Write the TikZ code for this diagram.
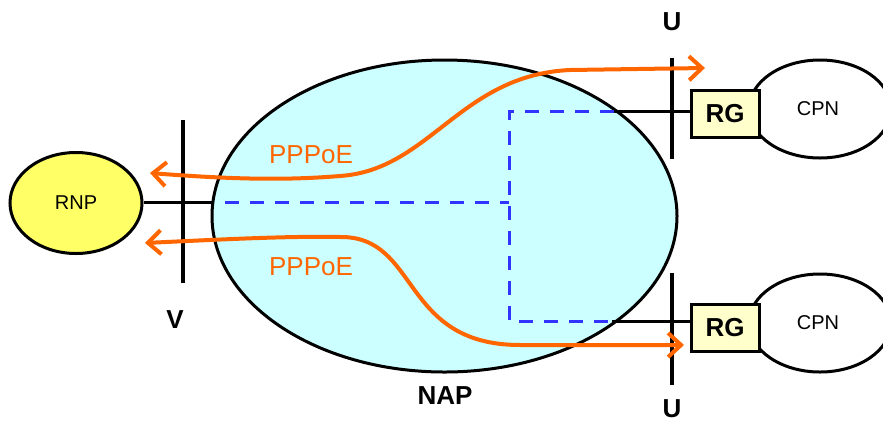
\documentclass[tikz,border=0pt]{standalone}
\usepackage{fontspec}
\setmainfont{Liberation Sans}
\usetikzlibrary{arrows.meta,shapes.geometric}
\definecolor{napfill}{HTML}{CCFFFF}
\definecolor{rnpfill}{HTML}{FFFF66}
\definecolor{rgfill}{HTML}{FFFFCC}
\definecolor{pppoe}{HTML}{FF6600}
\definecolor{vlan}{HTML}{3333FF}
\tikzset{
  refpoint/.style={line width=4pt},
  link/.style={line width=3pt},
  cloud/.style={ellipse, draw, line width=3pt, inner sep=0pt},
  gateway/.style={draw, line width=3pt, fill=rgfill, minimum width=68pt, minimum height=47pt,
    font=\fontsize{26}{26}\selectfont\bfseries},
  session/.style={draw=pppoe, line width=4pt, {Straight Barb[length=13pt,width=24pt]}-{Straight Barb[length=13pt,width=24pt]}},
  bridge/.style={draw=vlan, line width=3pt, dash pattern=on 14pt off 11pt},
  lbl/.style={font=\fontsize{26}{26}\selectfont\bfseries},
  plbl/.style={text=pppoe, font=\fontsize{26}{26}\selectfont},
  nlbl/.style={font=\fontsize{20}{20}\selectfont}
}
\begin{document}
\begin{tikzpicture}[x=1pt,y=-1pt]
\useasboundingbox (0,0) rectangle (883,424);

% customer premises networks
\node[cloud, fill=white, minimum width=142pt, minimum height=98pt] (cpnA) at (820,109) {};
\node[cloud, fill=white, minimum width=142pt, minimum height=98pt] (cpnB) at (820,323) {};
\node[nlbl] at (818,109) {CPN};
\node[nlbl] at (818,323) {CPN};

% residential gateways
\node[gateway] (rgA) at (725,113.5) {RG};
\node[gateway] (rgB) at (725,327.5) {RG};

% access network and regional network
\node[cloud, fill=napfill, minimum width=465pt, minimum height=312pt] (nap) at (444.5,216) {};
\node[cloud, fill=rnpfill, minimum width=132pt, minimum height=101pt] (rnp) at (76,203) {};
\node[nlbl] at (rnp.center) {RNP};

% attachment points on the NAP border
\coordinate (tapA) at (614,111);
\coordinate (tapB) at (612,321);
\coordinate (tapV) at (213,202);
\coordinate (split) at (509,202);

% bridged paths inside the NAP
\draw[bridge] (225,202) -- (split);
\draw[bridge] (tapA) -| (split) |- (tapB);

% links
\draw[link] (rnp.east |- tapV) -- (tapV);
\draw[link] (tapA) -- (tapA -| rgA.west);
\draw[link] (tapB) -- (tapB -| rgB.west);

% reference points
\coordinate (vTop) at (183,120);
\coordinate (vBot) at (183,283);
\coordinate (uATop) at (672,58);
\coordinate (uABot) at (672,159);
\coordinate (uBTop) at (672,273);
\coordinate (uBBot) at (672,385);
\draw[refpoint] (vTop) -- (vBot);
\draw[refpoint] (uATop) -- (uABot);
\draw[refpoint] (uBTop) -- (uBBot);
\node[lbl] (vlbl) at (175,320) {V};
\node[lbl] (ulblA) at (672,22) {U};
\node[lbl] (ulblB) at (672,409) {U};
\node[lbl] (naplbl) at (445,396) {NAP};

% PPPoE sessions
\coordinate (sA1) at (150,173);
\coordinate (sA2) at (705,68);
\coordinate (sB1) at (145,243);
\coordinate (sB2) at (684,345);
\draw[session] (sA1) .. controls (240,180) and (290,180) .. (340,176)
  .. controls (430,170) and (460,75) .. (570,70) -- (sA2);
\draw[session] (sB1) .. controls (230,239) and (290,236) .. (340,237)
  .. controls (420,236) and (400,345) .. (520,345) -- (sB2);
\node[plbl] (pA) at (311,155) {PPPoE};
\node[plbl] (pB) at (311,267) {PPPoE};
\end{tikzpicture}
\end{document}
